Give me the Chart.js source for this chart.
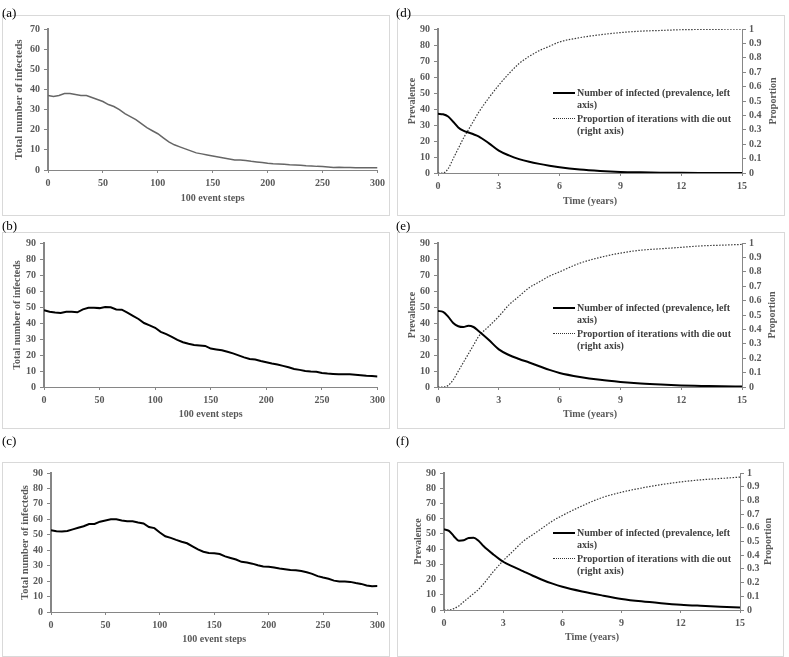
<!DOCTYPE html>
<html>
<head>
<meta charset="utf-8">
<script src="https://cdn.jsdelivr.net/npm/chart.js@4.4.0/dist/chart.umd.min.js"></script>
<style>
body { margin: 0; background: #fff; width: 789px; height: 657px; position: relative; overflow: hidden; font-family: "Liberation Serif", serif; }
.box { position: absolute; border: 1px solid #d9d9d9; box-sizing: border-box; }
.box canvas { position: absolute; left: 0; top: 0; }
.tag { position: absolute; font-size: 13px; line-height: 13px; color: #000; }
.leg { position: absolute; font-size: 10px; font-weight: bold; color: #404040; line-height: 12px; white-space: nowrap; }
.leg .s { position: absolute; left: -24px; top: 5px; width: 22px; height: 0; }
</style>
</head>
<body>
<script>
'use strict';

// 100 event steps (panels a-c)
const STEPS = [0, 5, 10, 15, 20, 25, 30, 35, 40, 45,
	50, 55, 60, 65, 70, 75, 80, 85, 90, 95,
	100, 105, 110, 115, 120, 125, 130, 135, 140, 145,
	150, 155, 160, 165, 170, 175, 180, 185, 190, 195,
	200, 205, 210, 215, 220, 225, 230, 235, 240, 245,
	250, 255, 260, 265, 270, 275, 280, 285, 290, 295, 300];

const INFECTED_A = [37, 36.5, 37, 38, 38, 37.5, 37, 37, 36, 35,
	34, 32.5, 31.5, 30, 28, 26.5, 25, 23, 21, 19.5,
	18, 16, 14, 12.5, 11.5, 10.5, 9.5, 8.5, 8, 7.5,
	7, 6.5, 6, 5.5, 5, 5, 4.7, 4.3, 4, 3.7,
	3.3, 3.1, 3, 2.8, 2.6, 2.5, 2.3, 2.1, 2, 1.8,
	1.7, 1.5, 1.3, 1.4, 1.3, 1.2, 1.1, 1.1, 1.1, 1.1, 1.1];

const INFECTED_B = [48, 47, 46.5, 46.3, 47, 47, 46.7, 48.5, 49.5, 49.5,
	49.3, 50, 49.8, 48.5, 48.3, 46.5, 44.5, 42.5, 40, 38.5,
	37, 34.5, 33, 31.3, 29.5, 28, 27, 26.3, 26, 25.7,
	24, 23.5, 23, 22, 21, 19.8, 18.5, 17.5, 17.2, 16.3,
	15.5, 14.7, 14, 13.2, 12.3, 11.3, 10.7, 10, 9.7, 9.5,
	8.8, 8.4, 8.2, 8, 8, 7.9, 7.7, 7.4, 7, 6.8, 6.5];

const INFECTED_C = [53, 52.3, 52.2, 52.5, 53.5, 54.5, 55.5, 57, 57, 58.5,
	59.3, 60, 60, 59.3, 58.8, 58.8, 58, 57.3, 55, 54.3,
	51.5, 49, 48, 46.7, 45.5, 44.5, 42.5, 40.5, 39, 38.2,
	38, 37.5, 36, 35, 34, 32.5, 32, 31.3, 30.3, 29.5,
	29.3, 28.8, 28.2, 27.7, 27.2, 27, 26.5, 25.7, 24.7, 23.2,
	22.3, 21.5, 20.3, 19.7, 19.7, 19.5, 18.8, 18.2, 17.2, 16.7, 16.8];

// time in years (panels d-f)
const YEARS = [0, 0.25, 0.5, 0.75, 1, 1.25, 1.5, 1.75, 2, 2.5, 3, 3.5, 4, 4.5, 5, 5.5, 6, 7, 8, 9, 10, 11, 12, 13, 14, 15];

const PREV_D = [37, 36.7, 35.3, 32, 28.5, 26.5, 25.3, 24.2, 22.9, 18.7, 14, 11, 8.7, 7, 5.7, 4.6, 3.6, 2.2, 1.3, 0.7, 0.4, 0.2, 0.1, 0.05, 0.02, 0];
const PROP_D = [0, 0, 0.03, 0.1, 0.17, 0.24, 0.3, 0.36, 0.42, 0.52, 0.61, 0.69, 0.76, 0.81, 0.85, 0.88, 0.91, 0.94, 0.96, 0.975, 0.985, 0.99, 0.995, 0.997, 0.998, 0.999];

const PREV_E = [47.5, 47, 44, 40, 38, 37.5, 38.3, 37.5, 35, 29.5, 23.5, 20, 17.5, 15.3, 13, 10.7, 8.8, 6.3, 4.5, 3.2, 2.2, 1.5, 1, 0.7, 0.4, 0.3];
const PROP_E = [0, 0, 0.01, 0.05, 0.11, 0.17, 0.23, 0.29, 0.35, 0.42, 0.49, 0.57, 0.63, 0.69, 0.73, 0.77, 0.8, 0.86, 0.9, 0.93, 0.95, 0.96, 0.97, 0.98, 0.985, 0.99];

const PREV_F = [53, 52, 48.5, 45.5, 45.8, 47.3, 47.5, 45.5, 42, 36.5, 31.7, 28.5, 25.5, 22.5, 19.7, 17.3, 15.3, 12.2, 9.6, 7.3, 5.7, 4.5, 3.5, 2.8, 2.2, 1.7];
const PROP_F = [0, 0, 0.01, 0.03, 0.06, 0.09, 0.12, 0.15, 0.19, 0.28, 0.36, 0.43, 0.5, 0.55, 0.6, 0.65, 0.69, 0.76, 0.82, 0.86, 0.89, 0.915, 0.935, 0.95, 0.96, 0.97];

const LEGEND_PREV = ['Number of infected (prevalence, left', 'axis)'];
const LEGEND_PROP = ['Proportion of iterations with die out', '(right axis)'];

const GREY = '#595959';
const AXIS = '#868686';
const FONT = '"Liberation Serif", "Times New Roman", serif';

function toPoints(xs, ys) {
	return xs.map((x, i) => ({ x: x, y: ys[i] }));
}

// excel draws the secondary axis title bottom-to-top, chart.js doesn't
const rightTitle = {
	id: 'rightTitle',
	afterDraw(chart, args, opts) {
		if (!opts.text) return;
		const { ctx, chartArea } = chart;
		ctx.save();
		ctx.font = 'bold 10px ' + FONT;
		ctx.fillStyle = GREY;
		ctx.textAlign = 'center';
		ctx.textBaseline = 'middle';
		ctx.translate(opts.x, (chartArea.top + chartArea.bottom) / 2);
		ctx.rotate(-Math.PI / 2);
		ctx.fillText(opts.text, 0, 0);
		ctx.restore();
	},
};

function tickFont() {
	return { family: FONT, size: 10, weight: 'bold', lineHeight: 1.2 };
}

function makePanel(p) {
	const [bl, bt, bw, bh] = p.box;
	const box = document.createElement('div');
	box.className = 'box';
	box.style.left = bl + 'px';
	box.style.top = bt + 'px';
	box.style.width = bw + 'px';
	box.style.height = bh + 'px';
	document.body.appendChild(box);

	const tag = document.createElement('div');
	tag.className = 'tag';
	tag.textContent = p.tag;
	tag.style.left = p.tagPos[0] + 'px';
	tag.style.top = p.tagPos[1] + 'px';
	document.body.appendChild(tag);

	const cw = bw - 2, ch = bh - 2;
	const ox = bl + 1, oy = bt + 1;
	const [px0, px1, py0, py1] = p.plot;
	const leftW = px0 - ox;
	const rightW = ox + cw - px1;
	const bottomH = oy + ch - py1;

	const canvas = document.createElement('canvas');
	canvas.width = cw;
	canvas.height = ch;
	box.appendChild(canvas);

	const scales = {
		x: {
			type: 'linear',
			min: 0,
			max: p.xMax,
			ticks: { stepSize: p.xStep, color: GREY, font: tickFont(), padding: 4, maxRotation: 0, autoSkip: false },
			grid: { drawOnChartArea: false, drawTicks: true, tickLength: 3, color: AXIS },
			border: { color: AXIS, width: 1 },
			title: {
				display: true,
				text: p.xTitle,
				color: GREY,
				font: { family: FONT, size: 10, weight: 'bold', lineHeight: 1.2 },
				padding: { top: 0, bottom: p.xTitlePad },
			},
			afterFit: (s) => { s.height = bottomH; },
		},
		y: {
			position: 'left',
			min: 0,
			max: p.yMax,
			ticks: { stepSize: 10, color: GREY, font: tickFont(), padding: 4, autoSkip: false },
			grid: { drawOnChartArea: false, drawTicks: true, tickLength: 4, color: AXIS },
			border: { color: AXIS, width: 2 },
			title: {
				display: true,
				text: p.yTitle,
				color: GREY,
				font: { family: FONT, size: p.yTitleSize, weight: 'bold', lineHeight: 1.2 },
				padding: { top: p.yTitlePad, bottom: 0 },
			},
			afterFit: (s) => { s.width = leftW; },
		},
	};

	const datasets = [];
	if (p.prop) {
		datasets.push({
			data: toPoints(YEARS, p.prev),
			yAxisID: 'y',
			borderColor: '#000',
			borderWidth: 2,
			pointRadius: 0,
			cubicInterpolationMode: 'monotone',
		});
		datasets.push({
			data: toPoints(YEARS, p.prop),
			yAxisID: 'y2',
			borderColor: '#3a3a3a',
			borderWidth: 1.2,
			borderDash: [1.5, 1.5],
			pointRadius: 0,
			cubicInterpolationMode: 'monotone',
		});
		scales.y2 = {
			position: 'right',
			min: 0,
			max: 1,
			ticks: {
				stepSize: 0.1,
				color: GREY,
				font: tickFont(),
				padding: 3,
				autoSkip: false,
				callback: (v) => String(Math.round(v * 10) / 10),
			},
			grid: { drawOnChartArea: false, drawTicks: true, tickLength: 4, color: AXIS },
			border: { color: AXIS, width: 1 },
			afterFit: (s) => { s.width = rightW; },
		};
	} else {
		datasets.push({
			data: toPoints(STEPS, p.values),
			borderColor: p.color,
			borderWidth: p.lineWidth,
			pointRadius: 0,
			tension: 0,
		});
	}

	new Chart(canvas.getContext('2d'), {
		type: 'line',
		data: { datasets: datasets },
		options: {
			responsive: false,
			animation: false,
			layout: { padding: { top: py0 - oy, right: p.prop ? 0 : rightW, left: 0, bottom: 0 } },
			scales: scales,
			plugins: {
				legend: { display: false },
				tooltip: { enabled: false },
				rightTitle: p.prop ? { text: 'Proportion', x: p.rightTitleX - ox } : {},
			},
		},
		plugins: [rightTitle],
	});

	if (p.prop) makeLegend(p.legendX, p.legendY);
}

function makeLegend(x, y) {
	const entries = [
		{ lines: LEGEND_PREV, style: '2px solid #000', top: y },
		{ lines: LEGEND_PROP, style: '1px dotted #333', top: y + 26 },
	];
	entries.forEach((e) => {
		const div = document.createElement('div');
		div.className = 'leg';
		div.style.left = x + 'px';
		div.style.top = (e.top - 6) + 'px';
		const s = document.createElement('span');
		s.className = 's';
		s.style.borderTop = e.style;
		div.appendChild(s);
		div.appendChild(document.createTextNode(e.lines[0]));
		div.appendChild(document.createElement('br'));
		div.appendChild(document.createTextNode(e.lines[1]));
		document.body.appendChild(div);
	});
}

const PANELS = [
	{ tag: '(a)', tagPos: [2, 6], box: [2, 15, 388, 201], plot: [48, 378, 29, 170],
		values: INFECTED_A, color: '#666', lineWidth: 1.5, xMax: 300, xStep: 50, yMax: 70,
		xTitle: '100 event steps', xTitlePad: 11, yTitle: 'Total number of infecteds', yTitleSize: 11, yTitlePad: 10 },
	{ tag: '(b)', tagPos: [2, 219], box: [2, 232, 388, 197], plot: [44, 378, 242, 387],
		values: INFECTED_B, color: '#000', lineWidth: 2, xMax: 300, xStep: 50, yMax: 90,
		xTitle: '100 event steps', xTitlePad: 8, yTitle: 'Total number of infecteds', yTitleSize: 10, yTitlePad: 8 },
	{ tag: '(c)', tagPos: [2, 434], box: [2, 462, 388, 195], plot: [51, 378, 473, 612],
		values: INFECTED_C, color: '#000', lineWidth: 2, xMax: 300, xStep: 50, yMax: 90,
		xTitle: '100 event steps', xTitlePad: 11, yTitle: 'Total number of infecteds', yTitleSize: 10.5, yTitlePad: 16 },
	{ tag: '(d)', tagPos: [396, 6], box: [397, 15, 388, 201], plot: [438, 742, 29, 173],
		prev: PREV_D, prop: PROP_D, xMax: 15, xStep: 3, yMax: 90,
		xTitle: 'Time (years)', xTitlePad: 8, yTitle: 'Prevalence', yTitleSize: 10, yTitlePad: 8,
		rightTitleX: 773, legendX: 577, legendY: 93 },
	{ tag: '(e)', tagPos: [396, 219], box: [397, 232, 388, 197], plot: [438, 742, 242, 387],
		prev: PREV_E, prop: PROP_E, xMax: 15, xStep: 3, yMax: 90,
		xTitle: 'Time (years)', xTitlePad: 8, yTitle: 'Prevalence', yTitleSize: 10, yTitlePad: 8,
		rightTitleX: 772, legendX: 577, legendY: 308 },
	{ tag: '(f)', tagPos: [396, 434], box: [397, 462, 387, 195], plot: [444, 740, 473, 610],
		prev: PREV_F, prop: PROP_F, xMax: 15, xStep: 3, yMax: 90,
		xTitle: 'Time (years)', xTitlePad: 13, yTitle: 'Prevalence', yTitleSize: 10, yTitlePad: 14,
		rightTitleX: 768, legendX: 577, legendY: 533 },
];

PANELS.forEach(makePanel);
</script>
</body>
</html>
